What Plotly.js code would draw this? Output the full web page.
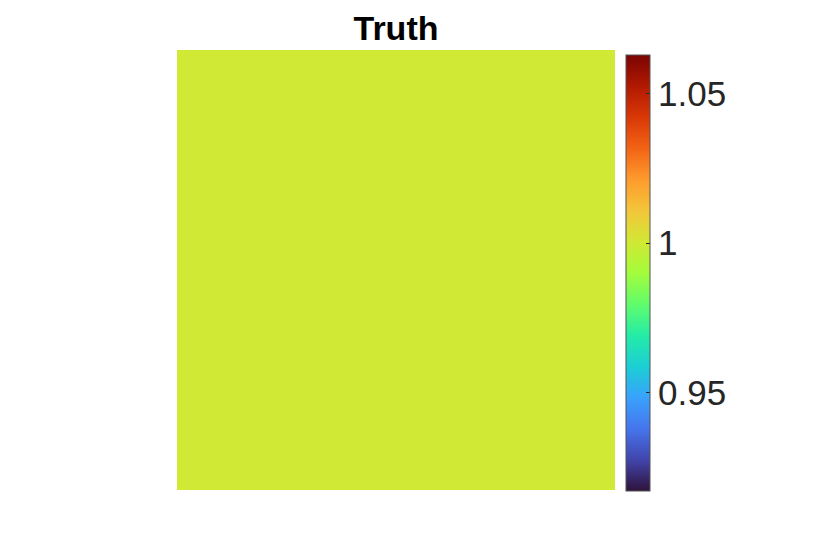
<!DOCTYPE html>
<html>
<head>
<meta charset="utf-8">
<script src="https://cdn.plot.ly/plotly-3.0.1.min.js"></script>
<style>
  html, body { margin: 0; padding: 0; background: #fff; }
  #chart { width: 830px; height: 552px; }
</style>
</head>
<body>
<div id="chart"></div>
<script>
// field values (uniform truth field)
var truthRows = [
    [1, 1, 1, 1, 1, 1, 1, 1],
    [1, 1, 1, 1, 1, 1, 1, 1],
    [1, 1, 1, 1, 1, 1, 1, 1],
    [1, 1, 1, 1, 1, 1, 1, 1],
    [1, 1, 1, 1, 1, 1, 1, 1],
    [1, 1, 1, 1, 1, 1, 1, 1],
    [1, 1, 1, 1, 1, 1, 1, 1],
    [1, 1, 1, 1, 1, 1, 1, 1]
];
var colorLimits = [0.917, 1.063];
var tickValues = [0.95, 1, 1.05];
var tickLabels = ['0.95', '1', '1.05'];

// turbo colormap samples
var turboColors = ['#30123b', '#4145ab', '#4675ed', '#39a2fc', '#1bcfd4', '#24eca6', '#61fc6c',
    '#a4fc3b', '#d1e834', '#f3c63a', '#fe9b2d', '#f36315', '#d93806', '#b11901', '#7a0403'];

var turbo = turboColors.map(function (c, i) {
    return [i / (turboColors.length - 1), c];
});

var trace = {
    z: truthRows,
    type: 'heatmap',
    colorscale: turbo,
    zmin: colorLimits[0],
    zmax: colorLimits[1],
    showscale: true,
    hoverinfo: 'skip',
    colorbar: {
        x: 1.025,
        xanchor: 'left',
        y: 0.493,
        yanchor: 'middle',
        len: 436 / 440,
        lenmode: 'fraction',
        thickness: 24,
        thicknessmode: 'pixels',
        outlinewidth: 1,
        outlinecolor: '#555',
        ticks: 'inside',
        ticklen: 4,
        tickcolor: '#262626',
        tickvals: tickValues,
        ticktext: tickLabels,
        tickfont: {family: 'Liberation Sans, Arial, sans-serif', size: 35, color: '#262626'},
        xpad: 0,
        ypad: 0
    }
};

var layout = {
    width: 830,
    height: 552,
    margin: {l: 177, r: 215, t: 50, b: 62},
    paper_bgcolor: '#fff',
    plot_bgcolor: '#fff',
    title: {
        text: '<b>Truth</b>',
        x: 396 / 830,
        xanchor: 'center',
        y: 1 - 28 / 552,
        yanchor: 'middle',
        font: {family: 'Liberation Sans, Arial, sans-serif', size: 34, color: '#000'}
    },
    xaxis: {visible: false, showgrid: false, zeroline: false},
    yaxis: {visible: false, showgrid: false, zeroline: false}
};

Plotly.newPlot('chart', [trace], layout, {displayModeBar: false, staticPlot: true});
</script>
</body>
</html>
